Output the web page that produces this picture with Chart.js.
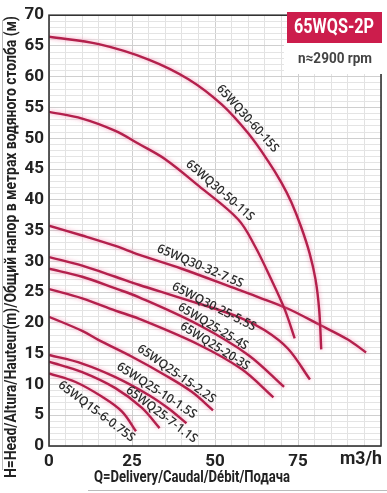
<!DOCTYPE html>
<html>
<head>
<meta charset="utf-8">
<script src="https://cdn.jsdelivr.net/npm/chart.js@4.4.0/dist/chart.umd.min.js"></script>
<style>
  html, body { margin: 0; padding: 0; background: #fff; }
  #wrap { width: 387px; height: 493px; }
</style>
</head>
<body>
<div id="wrap"><canvas id="pumpChart"></canvas></div>
<script>
// Q (m3/h) / H (m)
const q30_60 = [0, 15, 30, 42, 52, 60, 66, 70, 73, 76, 78.5, 80.3, 81.4, 82];
const h30_60 = [66.5, 65.3, 62.8, 59.6, 55.5, 50.8, 46.3, 42.8, 39.6, 35.5, 31.3, 27.0, 22.0, 15.7];

const q30_50 = [0, 10, 20, 27, 35, 45, 57, 62, 67, 71, 74];
const h30_50 = [54.3, 53.2, 51.2, 49.1, 46.6, 42.3, 36.8, 32.5, 27.0, 22.2, 17.5];

const q30_32 = [0, 10, 20, 27, 40, 57, 63, 72, 81.5, 90, 95.5];
const h30_32 = [35.8, 34.2, 32.5, 31.1, 28.8, 25.4, 24.2, 22.3, 19.7, 17.3, 15.2];

const q30_25 = [0, 10, 20, 27, 40, 57, 65, 72, 78.6];
const h30_25 = [30.7, 29.3, 27.5, 26.2, 24.0, 21.0, 18.8, 15.8, 10.8];

const q25_25 = [0, 10, 20, 27, 45, 60, 70.8];
const h25_25 = [28.8, 27.5, 25.6, 24.2, 19.7, 14.8, 9.6];

const q25_20 = [0, 10, 20, 27, 45, 58, 67.6];
const h25_20 = [25.5, 24.0, 22.0, 20.7, 16.5, 12.5, 7.9];

const q25_15 = [0, 10, 15, 25, 35, 43, 49.4];
const h25_15 = [21.0, 18.7, 17.2, 14.5, 11.5, 8.8, 5.8];

const q25_10 = [0, 10, 20, 30, 36, 41.4];
const h25_10 = [14.8, 13.4, 11.2, 8.3, 6.1, 3.7];

const q25_7 = [0, 10, 20, 28, 33.3];
const h25_7 = [13.7, 12.0, 9.4, 6.2, 2.9];

const q15_6 = [0, 8, 16, 22, 26.2];
const h15_6 = [11.8, 10.4, 8.0, 5.6, 2.4];

const models = [
  "65WQ30-60-15S", "65WQ30-50-11S", "65WQ30-32-7.5S", "65WQ30-25-5.5S", "65WQ25-25-4S",
  "65WQ25-20-3S", "65WQ25-15-2.2S", "65WQ25-10-1.5S", "65WQ25-7-1.1S", "65WQ15-6-0.75S"
];
const flows = [q30_60, q30_50, q30_32, q30_25, q25_25, q25_20, q25_15, q25_10, q25_7, q15_6];
const heads = [h30_60, h30_50, h30_32, h30_25, h25_25, h25_20, h25_15, h25_10, h25_7, h15_6];

// where each model name sits (Q, H, angle in degrees)
const labelSpots = [
  [59.8, 53.2, 48], [51.5, 41.5, 41], [45.5, 29.2, 23], [49.7, 22.6, 27], [49.4, 19.4, 31],
  [50.0, 16.2, 32], [38.4, 11.7, 35], [32.4, 9.0, 33], [33.9, 5.1, 37], [14.3, 5.6, 37]
];

const xTicks = [0, 25, 50, 75];
const yTicks = [0, 5, 10, 15, 20, 25, 30, 35, 40, 45, 50, 55, 60, 65, 70];

const curveColor = "#b3204c";
const tickFont = "Roboto, 'Liberation Sans', sans-serif";

const datasets = models.map((name, i) => ({
  label: name,
  data: flows[i].map((q, k) => ({ x: q, y: heads[i][k] })),
  borderColor: curveColor,
  borderWidth: 2.4,
  pointRadius: 0,
  fill: false,
  tension: 0.35
}));

// draws text squeezed horizontally to a given width
function fitText(ctx, text, x, y, width) {
  const w = ctx.measureText(text).width;
  ctx.save();
  ctx.translate(x, y);
  ctx.scale(Math.min(1, width / w), 1);
  ctx.fillText(text, 0, 0);
  ctx.restore();
}

const decor = {
  id: "decor",
  beforeDatasetsDraw(chart) {
    const ctx = chart.ctx;
    ctx.save();
    ctx.shadowColor = "rgba(240,120,160,0.75)";
    ctx.shadowBlur = 4;
  },
  afterDatasetsDraw(chart) {
    chart.ctx.restore();
  },
  afterDraw(chart) {
    const { ctx, chartArea: a, scales } = chart;
    ctx.save();

    // frame
    ctx.strokeStyle = "#333";
    ctx.lineWidth = 1.6;
    ctx.strokeRect(a.left, a.top, a.right - a.left, a.bottom - a.top);

    // model labels along curves
    ctx.fillStyle = "#2b2b2b";
    ctx.font = "600 12.5px 'Open Sans', sans-serif";
    ctx.textAlign = "center";
    ctx.textBaseline = "middle";
    labelSpots.forEach(([q, h, ang], i) => {
      ctx.save();
      ctx.translate(scales.x.getPixelForValue(q), scales.y.getPixelForValue(h));
      ctx.rotate(ang * Math.PI / 180);
      fitText(ctx, models[i], 0, 0, models[i].length * 6.6);
      ctx.restore();
    });

    // title boxes
    ctx.fillStyle = "#fff";
    ctx.fillRect(284, 43, 98, 31);
    ctx.fillStyle = "#cc1d4c";
    ctx.fillRect(287, 12, 95, 31);
    ctx.fillStyle = "#fff";
    ctx.font = "bold 20px " + tickFont;
    fitText(ctx, "65WQS-2P", 334, 28, 80);
    ctx.fillStyle = "#444";
    ctx.font = "bold 15px " + tickFont;
    fitText(ctx, "n\u22482900 rpm", 335, 59, 74);

    // unit on the x axis
    ctx.fillStyle = "#222";
    ctx.font = "bold 18px " + tickFont;
    fitText(ctx, "m3/h", 361, 459, 42);

    // axis titles
    ctx.font = "bold 16.5px " + tickFont;
    fitText(ctx, "Q=Delivery/Caudal/Débit/Подача", 192, 478, 196);
    ctx.strokeStyle = "#bbb";
    ctx.lineWidth = 1;
    ctx.beginPath();
    ctx.moveTo(88, 490.5);
    ctx.lineTo(387, 490.5);
    ctx.stroke();

    const yTitle = "H=Head/Altura/Hauteur(m)/Общий напор в метрах водяного столба (м)";
    ctx.font = "bold 16.5px " + tickFont;
    ctx.save();
    ctx.translate(12, 247);
    ctx.rotate(-Math.PI / 2);
    fitText(ctx, yTitle, 0, 0, 462);
    ctx.restore();
    ctx.beginPath();
    ctx.moveTo(2.5, 20);
    ctx.lineTo(2.5, 470);
    ctx.stroke();

    ctx.restore();
  }
};

new Chart(document.getElementById("pumpChart"), {
  type: "line",
  data: { datasets },
  options: {
    responsive: true,
    maintainAspectRatio: false,
    animation: false,
    layout: { padding: { top: 10, right: 4, left: 0, bottom: 0 } },
    plugins: { legend: { display: false }, tooltip: { enabled: false } },
    scales: {
      x: {
        type: "linear",
        min: 0,
        max: 100,
        afterFit: s => { s.height = 47; },
        border: { display: false },
        grid: {
          drawTicks: false,
          color: c => c.tick.value % 25 === 0 ? "#cfcfcf" : "#e2e2e2",
          lineWidth: 1
        },
        ticks: {
          stepSize: 5,
          autoSkip: false,
          maxRotation: 0,
          padding: 6,
          color: "#222",
          font: { family: tickFont, size: 17, weight: "bold" },
          callback: v => xTicks.includes(v) ? v : ""
        }
      },
      y: {
        min: 0,
        max: 70,
        afterFit: s => { s.width = 49; },
        border: { display: false },
        grid: {
          drawTicks: false,
          color: c => c.tick.value % 5 === 0 ? "#cfcfcf" : "#e4e4e4",
          lineWidth: 1
        },
        ticks: {
          stepSize: 1,
          autoSkip: false,
          padding: 5,
          color: "#222",
          font: { family: tickFont, size: 17, weight: "bold" },
          callback: v => yTicks.includes(v) ? v : ""
        }
      }
    }
  },
  plugins: [decor]
});
</script>
</body>
</html>
